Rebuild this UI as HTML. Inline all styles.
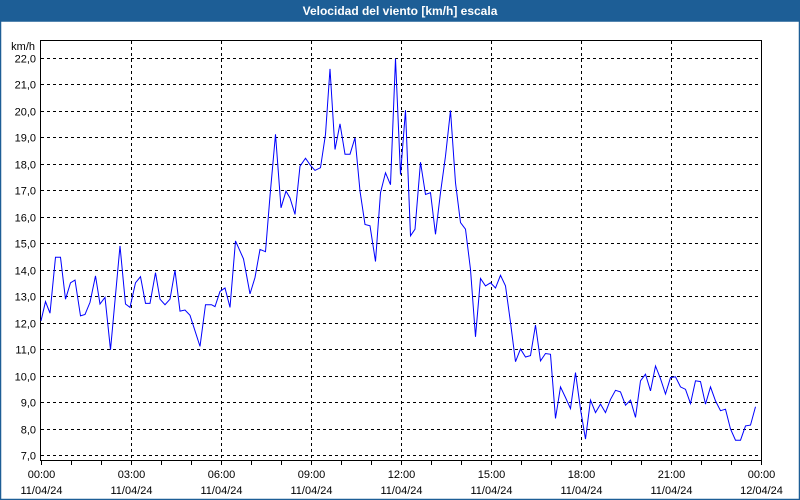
<!DOCTYPE html>
<html><head><meta charset="utf-8"><style>
body{margin:0;background:#fff;}
svg{display:block;font-family:"Liberation Sans",sans-serif;}
</style></head><body>
<svg width="800" height="500" viewBox="0 0 800 500" id="chart">
<rect x="0" y="0" width="800" height="500" fill="#fff"/>
<rect x="0" y="0" width="800" height="21" fill="#1d5e96"/>
<rect x="0.5" y="21" width="799" height="478.5" fill="none" stroke="#1d5e96" stroke-width="1.5"/>
<text x="400" y="15" text-anchor="middle" fill="#fff" font-size="12" font-weight="bold">Velocidad del viento [km/h] escala</text>
<text x="35" y="50" text-anchor="end" font-size="11" fill="#000">km/h</text>
<g id="grid"></g>
<g id="axes"></g>
<rect x="40.5" y="40.5" width="721" height="420" fill="none" stroke="#000" stroke-width="1"/>
<g id="series"></g>
</svg>
<script>
const tickValues=[7,8,9,10,11,12,13,14,15,16,17,18,19,20,21,22];
const timeTicks=["00:00","03:00","06:00","09:00","12:00","15:00","18:00","21:00","00:00"];
const dateTicks=["11/04/24","11/04/24","11/04/24","11/04/24","11/04/24","11/04/24","11/04/24","11/04/24","12/04/24"];
const minutes=[0,9,18,29,39,49,59,68,79,88,98,109,118,128,139,158,169,178,189,199,209,218,229,238,248,258,268,278,288,298,318,329,341,348,358,368,378,389,405,418,428,438,449,458,469,480,490,498,508,518,529,539,548,559,569,578,588,598,608,618,628,638,648,658,669,679,689,699,709,719,729,739,748,759,769,779,789,799,809,819,829,839,849,859,869,879,889,899,909,919,929,939,949,959,969,979,989,999,1009,1019,1029,1039,1049,1059,1069,1079,1089,1099,1109,1119,1129,1139,1149,1159,1169,1179,1189,1199,1209,1219,1229,1239,1249,1259,1269,1279,1289,1299,1309,1319,1329,1339,1349,1359,1369,1379,1389,1399,1409,1419,1429,1439];
const speeds=[12.06,12.79,12.35,14.46,14.46,12.88,13.5,13.6,12.25,12.3,12.76,13.76,12.7,12.95,10.97,14.89,12.7,12.57,13.5,13.73,12.72,12.72,13.88,12.88,12.67,12.88,13.97,12.43,12.47,12.27,11.1,12.67,12.67,12.6,13.17,13.3,12.57,15.08,14.4,13.08,13.7,14.76,14.67,16.77,19.1,16.33,16.96,16.7,16.08,17.9,18.2,17.93,17.74,17.84,19.1,21.57,18.53,19.5,18.35,18.35,18.97,16.96,15.7,15.65,14.3,16.9,17.65,17.2,21.96,17.58,20.01,15.27,15.52,18.05,16.83,16.9,15.33,16.9,18.28,20.0,17.27,15.77,15.52,14.0,11.46,13.66,13.38,13.5,13.3,13.78,13.38,12.0,10.52,11.0,10.7,10.75,11.9,10.55,10.83,10.8,8.38,9.57,9.17,8.75,10.11,8.73,7.6,9.07,8.6,8.92,8.6,9.1,9.44,9.38,8.88,9.07,8.42,9.8,10.05,9.42,10.36,9.88,9.3,9.92,9.95,9.57,9.48,8.94,9.8,9.77,8.92,9.57,9.04,8.67,8.73,7.98,7.56,7.56,8.1,8.13,8.82];
const NS="http://www.w3.org/2000/svg";
const X0=41,X1=761,Y7=455,Y22=57.5;
function xScale(m){return X0+(X1-X0)*m/1440;}
function yScale(v){return Y7+(v-7)*(Y22-Y7)/15;}
const grid=document.getElementById('grid'),axes=document.getElementById('axes'),series=document.getElementById('series');
function mk(tag,attrs,parent){const e=document.createElementNS(NS,tag);for(const k in attrs)e.setAttribute(k,attrs[k]);parent.appendChild(e);return e;}
tickValues.forEach(v=>{
  const y=Math.round(yScale(v))+0.5;
  const l=mk('line',{x1:41,x2:761,y1:y,y2:y,stroke:'#000','stroke-dasharray':'3,3'},grid);
  
  
  const t=mk('text',{x:36,y:y+4,'text-anchor':'end','font-size':11,fill:'#000'},axes);
  t.textContent=v.toFixed(1).replace('.',',');
  
  
});
timeTicks.forEach((lab,i)=>{
  const x=Math.round(xScale(i*180))+0.5;
  if(i>0&&i<timeTicks.length-1){
    const l=mk('line',{x1:x,x2:x,y1:41,y2:461,stroke:'#000','stroke-dasharray':'3,3'},grid);
    
    
  }
  const t=mk('text',{x:x,y:478,'text-anchor':'middle','font-size':11,fill:'#000'},axes);
  t.textContent=lab;
  
  
  const d=mk('text',{x:x,y:494,'text-anchor':'middle','font-size':11,fill:'#000'},axes);
  d.textContent=dateTicks[i];
  
  
});
for(let h=0;h<=24;h++){
  const x=Math.round(xScale(h*60))+0.5;
  const l=mk('line',{x1:x,x2:x,y1:461,y2:465,stroke:'#000'},axes);
  
  
}
const pts=minutes.map((m,i)=>xScale(m).toFixed(1)+','+yScale(speeds[i]).toFixed(1)).join(' ');
const pl=mk('polyline',{points:pts,fill:'none',stroke:'#0000ff','stroke-width':1},series);


</script>
</body></html>
